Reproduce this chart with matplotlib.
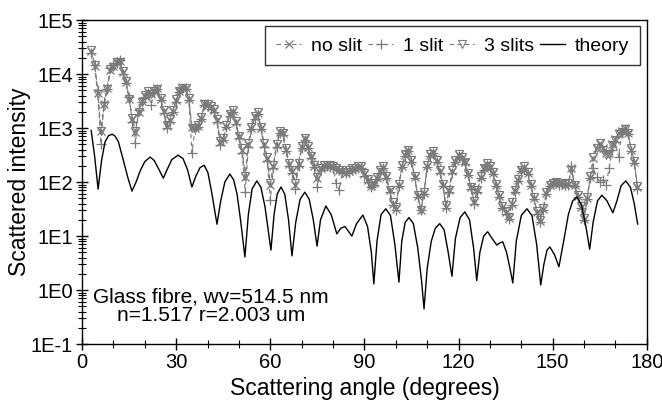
import numpy as np
import matplotlib
matplotlib.use("Agg")
import matplotlib.pyplot as plt
from matplotlib.ticker import FixedLocator, FuncFormatter, MultipleLocator, NullFormatter

plt.rcParams['font.family'] = ['Liberation Sans', 'DejaVu Sans']

# measured data, one value per degree from 3 to 177
angles = list(range(3, 178))

no_slit = [
    27000, 14000, 4500, 890, 2800, 5600, 12000, 14000, 17000, 17500,
    11000, 7100, 3500, 1500, 850, 2000, 3200, 4000, 4700, 4200,
    4800, 5500, 3500, 2100, 1100, 1400, 2100, 3300, 4800, 5800,
    5500, 3500, 1050, 1000, 1100, 1550, 2900, 2700, 2500, 2200,
    1400, 560, 630, 1100, 1800, 2100, 1300, 700, 400, 125,
    500, 1000, 1600, 1900, 1000, 500, 280, 90, 200, 490,
    850, 800, 400, 220, 160, 90, 220, 450, 650, 450,
    300, 200, 120, 180, 200, 205, 200, 190, 180, 165,
    160, 150, 160, 175, 180, 190, 190, 140, 110, 83,
    95, 120, 160, 190, 125, 70, 40, 32, 90, 200,
    320, 390, 250, 125, 56, 30, 63, 200, 320, 360,
    250, 160, 90, 35, 70, 160, 250, 320, 280, 235,
    140, 80, 42, 70, 125, 180, 220, 190, 150, 90,
    56, 35, 28, 22, 40, 70, 110, 165, 190, 150,
    90, 50, 28, 19, 32, 63, 87, 95, 100, 93,
    95, 90, 93, 180, 87, 56, 35, 21, 50, 125,
    280, 420, 520, 420, 350, 350, 500, 630, 800, 890,
    1000, 800, 400, 240, 80,
]

one_slit = [
    25000, 15000, 5000, 500, 3000, 5200, 13000, 15000, 16000, 18500,
    10000, 6800, 3700, 1300, 520, 2200, 3000, 3800, 4500, 2700,
    4600, 5200, 3300, 1900, 1000, 1300, 2000, 3100, 4600, 5500,
    5300, 3300, 350, 950, 1050, 1450, 2700, 2600, 2300, 2000,
    1300, 480, 600, 1050, 1700, 2000, 1200, 650, 350, 65,
    450, 950, 1500, 1800, 950, 450, 250, 47, 180, 450,
    800, 750, 380, 200, 150, 75, 200, 420, 600, 430,
    280, 190, 80, 170, 190, 200, 190, 180, 95, 70,
    155, 150, 155, 170, 175, 185, 185, 130, 100, 80,
    90, 115, 150, 180, 120, 65, 38, 30, 85, 190,
    300, 370, 240, 120, 52, 30, 60, 190, 300, 350,
    240, 150, 85, 33, 65, 150, 240, 300, 270, 220,
    135, 75, 40, 65, 120, 170, 210, 180, 140, 85,
    52, 33, 26, 21, 38, 65, 105, 160, 180, 140,
    85, 48, 26, 18, 30, 60, 85, 92, 98, 90,
    92, 88, 90, 200, 85, 54, 33, 20, 48, 120,
    180, 125, 100, 110, 90, 180, 400, 550, 290, 800,
    950, 780, 380, 230, 75,
]

three_slits = [
    28000, 14500, 4300, 900, 2600, 5300, 12500, 13500, 16500, 17000,
    11500, 7300, 3400, 1550, 880, 2000, 3100, 4100, 4800, 4300,
    4900, 5400, 3600, 2200, 1150, 1450, 2200, 3400, 4900, 5600,
    5600, 3600, 1000, 1000, 1150, 1600, 2800, 2800, 2600, 2250,
    1450, 580, 650, 1150, 1850, 2150, 1350, 720, 420, 130,
    520, 1050, 1650, 1950, 1050, 520, 290, 95, 210, 500,
    870, 820, 420, 230, 165, 95, 230, 460, 660, 460,
    310, 205, 125, 185, 205, 210, 205, 195, 185, 170,
    165, 155, 165, 180, 185, 195, 195, 145, 115, 86,
    98, 125, 165, 195, 130, 72, 42, 34, 92, 205,
    330, 400, 260, 130, 58, 31, 65, 205, 330, 370,
    260, 165, 92, 37, 72, 165, 260, 330, 290, 240,
    145, 82, 44, 72, 130, 185, 225, 195, 155, 92,
    58, 36, 29, 23, 42, 72, 115, 170, 195, 155,
    92, 52, 29, 20, 33, 65, 90, 98, 102, 95,
    98, 92, 95, 170, 90, 58, 36, 22, 52, 130,
    290, 430, 530, 400, 320, 330, 480, 600, 780, 850,
    980, 820, 420, 250, 85,
]

# theory curve
theory_angle = [
    2.9, 4.0, 5.1, 6.2, 7.3, 8.4, 9.6, 10.6, 11.6, 13.1, 14.6, 15.9,
    17.2, 18.5, 20.0, 21.7, 23.0, 24.3, 25.9,
    27.2, 28.6, 30.6, 32.2, 33.6, 35.0,
    36.3, 37.6, 38.9, 40.1, 41.3, 43.0,
    44.2, 45.5, 47.1, 48.3, 49.4, 50.5, 51.9,
    53.0, 54.2, 55.7, 57.0, 58.3, 59.3, 60.2,
    61.2, 62.2, 63.4, 64.6, 65.8, 66.9,
    68.1, 69.5, 71.0, 72.4, 73.7, 74.9,
    76.0, 77.7, 79.4, 81.2,
    82.5, 83.8, 85.0, 86.0, 87.5, 89.5,
    91.0, 92.2, 93.0,
    94.0, 95.3, 96.8, 98.3, 99.7, 101.0,
    101.9, 103.0, 104.2, 105.6, 107.0, 108.2, 109.0,
    110.0, 111.3, 112.6, 114.0, 115.4, 116.7, 117.9,
    119.0, 120.5, 122.0, 123.5, 124.8, 125.8,
    126.8, 128.0, 129.3, 130.7, 132.2, 133.2, 134.1, 135.3, 136.4, 137.3,
    138.4, 140.0, 141.8, 143.4, 144.9, 146.2,
    147.2, 148.2, 149.1, 150.6, 152.0,
    153.5, 155.0, 156.4, 157.7, 159.2, 160.6, 161.8,
    162.9, 164.3, 165.7, 167.3, 169.2, 170.5, 171.8, 173.3, 174.8, 176.0, 177.1,
]
theory = [
    900, 300, 74, 250, 550, 720, 770, 700, 550, 260, 120, 68,
    100, 160, 240, 290, 250, 180, 118,
    175, 260, 316, 270, 170, 81,
    130, 185, 205, 150, 65, 16.6,
    45, 100, 141, 110, 60, 20, 4.1,
    25, 75, 105, 80, 35, 13, 5.5,
    25, 60, 81, 60, 20, 4.3,
    18, 48, 65, 48, 20, 6.5,
    20, 36, 25, 11,
    14, 15, 12, 10, 17, 24.5,
    15, 5, 1.3,
    8, 25, 32, 24, 7, 1.4,
    8, 18, 22, 17, 6, 1.5, 0.45,
    2.5, 8, 14, 17, 13, 5, 1.8,
    9, 22, 28, 20, 6, 1.5,
    5, 10, 12, 9, 6.8, 7.5, 7.8, 5, 2.5, 1.35,
    8, 24, 32, 24, 7, 1.24,
    3, 5.5, 6.3, 4.5, 2.7,
    8, 25, 45, 53, 38, 15, 5.7,
    18, 45, 57, 45, 27, 45, 85, 105, 80, 40, 16.7,
]

y_ticks = [0.1, 1, 10, 100, 1000, 10000, 100000]
y_labels = ['1E-1', '1E0', '1E1', '1E2', '1E3', '1E4', '1E5']

grey = '#7a7a7a'

fig = plt.figure(figsize=(6.62, 4.01), dpi=100)
ax = fig.add_axes([0.124, 0.142, 0.853, 0.808])

ax.plot(angles, no_slit, color=grey, ls=(0, (4, 3)), lw=0.8, marker='x',
        ms=6, mew=0.9, label='no slit')
ax.plot(angles, one_slit, color=grey, ls=(0, (4, 3)), lw=0.8, marker='+',
        ms=7, mew=0.9, label='1 slit')
ax.plot(angles, three_slits, color=grey, ls=(0, (4, 3)), lw=0.8, marker='v',
        ms=5.5, mew=0.8, mfc='none', label='3 slits')
ax.plot(theory_angle, theory, color='black', lw=1.0, label='theory')

ax.set_yscale('log')
ax.set_xlim(0, 180)
ax.set_ylim(0.1, 1e5)
ax.xaxis.set_major_locator(MultipleLocator(30))
ax.xaxis.set_minor_locator(MultipleLocator(10))
minor = [m * t for t in y_ticks[:-1] for m in range(2, 10)]
ax.yaxis.set_major_locator(FixedLocator(y_ticks))
ax.yaxis.set_minor_locator(FixedLocator(minor))
ax.yaxis.set_major_formatter(FuncFormatter(lambda v, p: y_labels[y_ticks.index(v)] if v in y_ticks else ''))
ax.yaxis.set_minor_formatter(NullFormatter())
ax.tick_params(which='major', direction='inout', length=9, width=1, labelsize=14.5, pad=2)
ax.tick_params(which='minor', direction='inout', length=6, width=0.8)
for s in ax.spines.values():
    s.set_linewidth(1)

ax.set_xlabel('Scattering angle (degrees)', fontsize=16.5, labelpad=3.5)
ax.set_ylabel('Scattered intensity', fontsize=16.5, labelpad=0)

ax.text(41, 0.5, 'Glass fibre, wv=514.5 nm\nn=1.517 r=2.003 um', fontsize=15,
        ha='center', va='center', multialignment='center', linespacing=1.0)

leg = ax.legend(loc='upper right', bbox_to_anchor=(0.988, 0.981), ncol=4,
                fontsize=14, frameon=True, fancybox=False, borderaxespad=0,
                handlelength=1.3, handletextpad=0.5, columnspacing=0.3,
                borderpad=0.55, edgecolor='black')
leg.get_frame().set_linewidth(1)

fig.savefig('out.png', dpi=100)
